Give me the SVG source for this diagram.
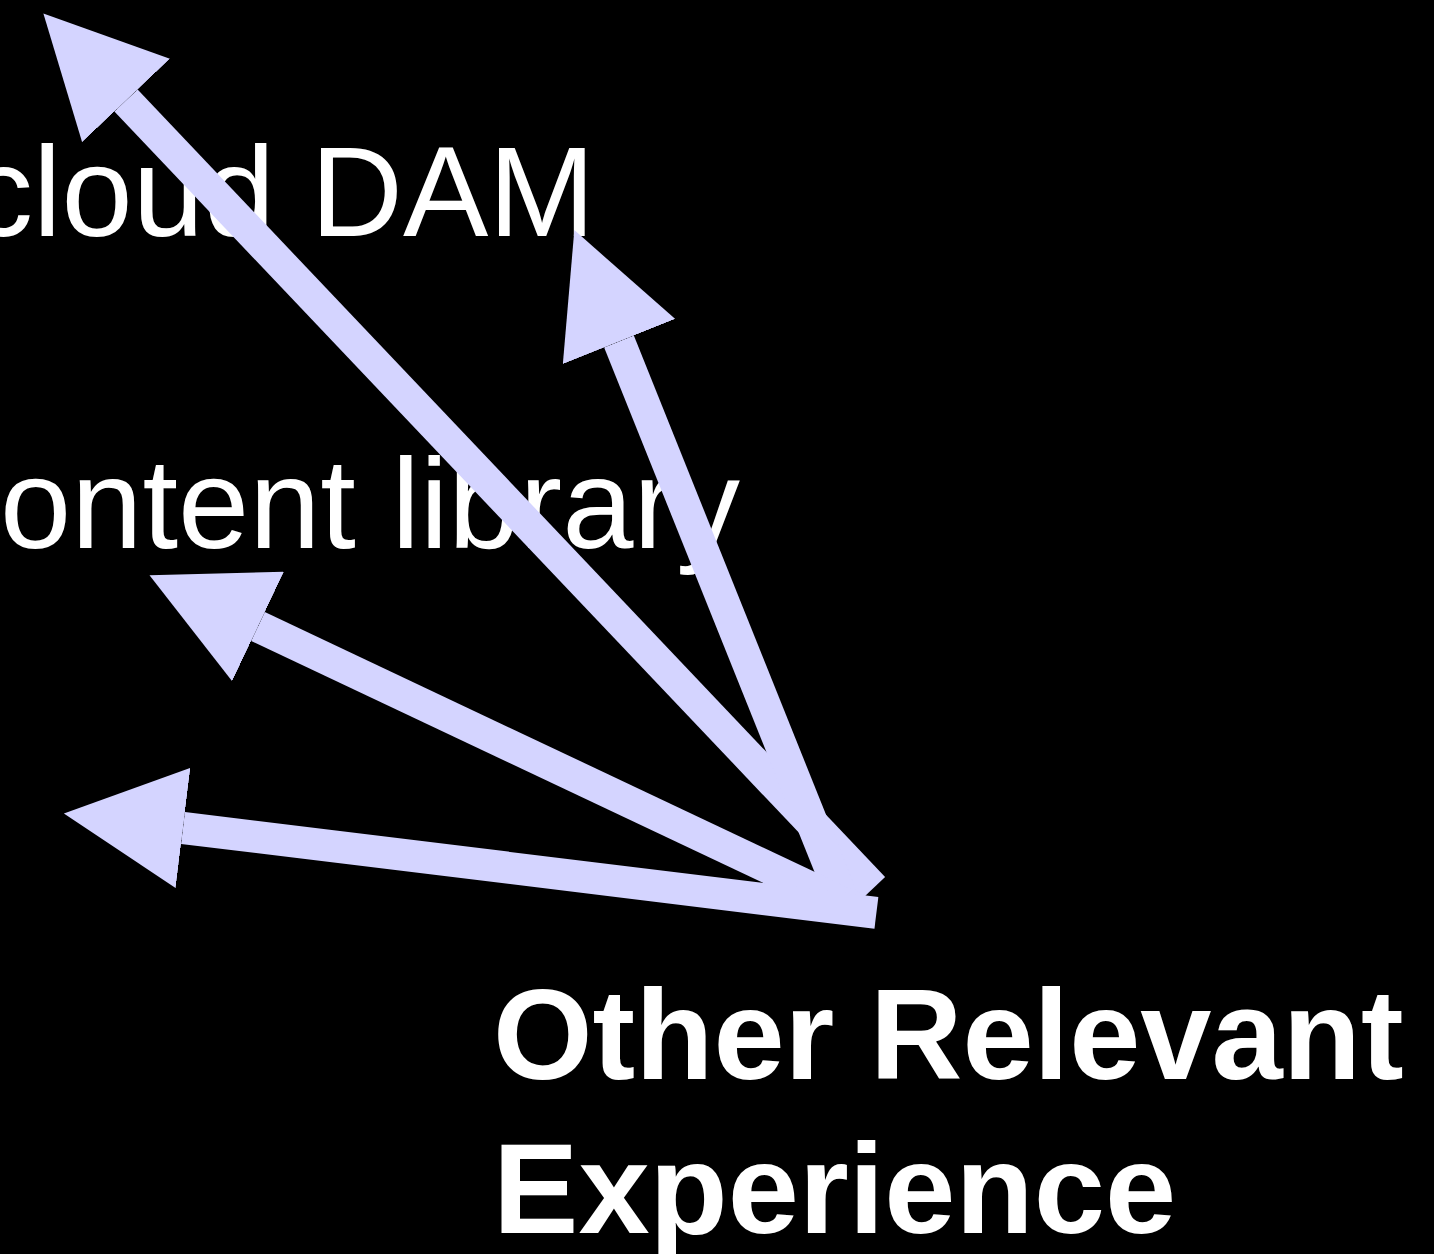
<svg xmlns="http://www.w3.org/2000/svg" width="1434" height="1254" viewBox="0 0 1434 1254">
  <style>
    .lbl { font-family: "Liberation Sans", Arial, Helvetica, sans-serif; fill: #ffffff; font-size: 128px; }
    .bold { font-weight: bold; }
    .conn { stroke: #D4D4FF; stroke-width: 32; stroke-linecap: butt; fill: none; marker-end: url(#head); }
  </style>
  <defs>
    <marker id="head" markerUnits="userSpaceOnUse" viewBox="0 0 120 121" markerWidth="120" markerHeight="121" refX="0" refY="60.5" orient="auto">
      <path d="M0,0 L120,60.5 L0,121 Z" fill="#D4D4FF"/>
    </marker>
  </defs>
  <rect id="background" x="0" y="0" width="1434" height="1254" fill="#000000"/>
  <g id="node-cloud-dam">
    <text class="lbl" x="-31" y="236">cloud DAM</text>
  </g>
  <g id="node-content-library">
    <text class="lbl" x="0" y="548">ontent library</text>
  </g>
  <g id="node-other-relevant-experience">
    <text class="lbl bold" x="493" y="1079">Other Relevant</text>
    <text class="lbl bold" x="493" y="1233">Experience</text>
  </g>
  <g id="connectors">
    <line class="conn" x1="873.5" y1="888" x2="126" y2="100.5"/>
    <line class="conn" x1="845" y1="905" x2="619" y2="341.5"/>
    <line class="conn" x1="860" y1="911" x2="258" y2="626.5"/>
    <line class="conn" x1="876.4" y1="912.8" x2="183" y2="828"/>
  </g>
</svg>
